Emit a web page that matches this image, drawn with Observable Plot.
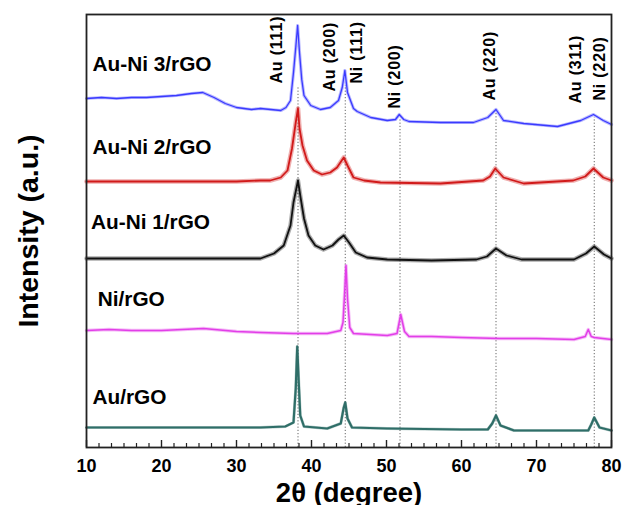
<!DOCTYPE html>
<html>
<head>
<meta charset="utf-8">
<script src="https://cdn.jsdelivr.net/npm/d3@7"></script>
<script src="https://cdn.jsdelivr.net/npm/@observablehq/plot@0.6"></script>
<style>
  html, body { margin: 0; padding: 0; background: #fff; }
  #chart { width: 622px; height: 505px; }
</style>
</head>
<body>
<div id="chart"></div>
<script>
// ---- Data (2θ in degrees, intensity in a.u., stacked offsets included) ----
const seriesNames = ["Au-Ni 3/rGO", "Au-Ni 2/rGO", "Au-Ni 1/rGO", "Ni/rGO", "Au/rGO"];
const seriesColors = ["#3a3aff", "#d11a1a", "#111111", "#e23ee8", "#2f6e68"];

const auNi3 = [
  [10,349],[12,350],[14,349],[16,350],[18,350],[20,351],[22,352],[24,354],[25.5,355],[27,350],
  [28.5,344],[30,340],[32,338],[33.2,339],[35.9,337],[36.6,340],[37.2,347],[37.6,375],[37.9,400],
  [38.15,422],[38.4,395],[38.7,368],[39,352],[39.9,342],[41.2,338],[42.5,340],[43.6,347],[44.1,360],
  [44.45,377],[44.8,355],[45.6,339],[46.1,336],[47.9,330],[50.1,327],[51.2,328],[51.7,333],
  [52.3,328],[53,326],[57.2,325],[61.6,325],[63.5,330],[64.6,338],[65.6,327],[68.3,324],
  [72.8,321],[75.9,327],[77.6,333],[78.9,327],[80,323]
];
const auNi2 = [
  [10,266],[15,266],[20,266],[25,266],[30,266],[33.2,267],[34.5,267],[35.9,270],[36.8,277],
  [37.4,299],[37.9,325],[38.2,339],[38.4,319],[38.8,302],[39.4,287],[40.3,277],[41.4,273],
  [42.5,275],[43.4,280],[44.3,290],[44.8,282],[45.6,270],[47,267],[49.2,265],[57.2,264],
  [62.9,267],[63.8,271],[64.5,279],[65.6,270],[68.3,264],[74.9,267],[76.5,271],[77.6,279],
  [78.9,270],[80,267]
];
const auNi1 = [
  [10,189],[15,189],[20,189],[25,189],[30,189],[33.2,189],[35,194],[36.3,202],[37.2,222],
  [37.6,245],[38.2,267],[38.5,252],[39,229],[39.6,212],[40.5,202],[41.6,198],[42.8,202],
  [43.6,208],[44.3,212],[45,205],[45.9,195],[47.4,190],[50.1,188],[56,187],[62,188],[63.4,191],
  [64.6,199],[66,192],[68,188],[75,188],[76.6,194],[77.7,201],[79,193],[80,189]
];
const niRgo = [
  [10,117],[13,118],[16,117],[20,117],[25.6,119],[30,116],[33.2,115],[37.6,114],[42.1,114],
  [43.9,117],[44.2,125],[44.45,159],[44.6,182],[44.8,149],[45.1,120],[45.6,114],[50.1,112],
  [51.4,114],[51.9,133],[52.4,116],[53,111],[56,111],[60,110],[65,109],[70,109],[75,108],
  [76.5,111],[76.9,118],[77.3,111],[77.7,110],[80,108]
];
const auRgo = [
  [10,20],[20,20],[30,20],[33.2,20],[36.5,21],[37.6,25],[37.9,59],[38.1,101],[38.3,65],[38.5,32],
  [39,21],[42.1,19],[43.9,24],[44.3,40],[44.5,45],[44.8,29],[45.4,20],[50.1,19],[60,18],[63.5,18],
  [64.1,24],[64.6,32],[65.2,22],[67,17],[72,17],[76.9,17],[77.3,23],[77.7,30],[78.4,20],[80,17]
];
const seriesData = [auNi3, auNi2, auNi1, niRgo, auRgo];

// series label anchors (2θ, intensity)
const seriesLabelX = [10.8, 10.8, 10.6, 11.5, 10.8];
const seriesLabelY = [383, 300, 225, 148, 50];

// reflection labels
const peakLabels = ["Au (111)", "Au (200)", "Ni (111)", "Ni (200)", "Au (220)", "Au (311)", "Ni (220)"];
const peakLabelX = [35.33, 42.4, 46.0, 51.07, 63.73, 75.2, 78.4];
const peakLabelY = [364, 356, 364, 339, 347, 344, 347];

// dotted reference lines (2θ, top intensity)
const refLineX = [38.2, 44.5, 51.8, 64.6, 77.7];
const refLineTop = [360, 362, 328, 334, 330];

const xTicks = [10, 20, 30, 40, 50, 60, 70, 80];

// ---- build tables ----
const lines = seriesData.flatMap((arr, i) => arr.map(([x, y]) => ({series: seriesNames[i], x, y})));
const labels = seriesNames.map((s, i) => ({text: s, x: seriesLabelX[i], y: seriesLabelY[i]}));
const peaks = peakLabels.map((t, i) => ({text: t, x: peakLabelX[i], y: peakLabelY[i]}));
const refs = refLineX.map((x, i) => ({x, top: refLineTop[i]}));
const minorTicks = d3.range(0, 43).map(i => 10 + i * 10 / 6).filter(v => Math.abs(v / 10 - Math.round(v / 10)) > 1e-6);

// noisy band (wide translucent stroke) + core stroke, per series
const bandWidths = {"Au-Ni 3/rGO": 3.2, "Au-Ni 2/rGO": 4.6, "Au-Ni 1/rGO": 4.4, "Ni/rGO": 3.4, "Au/rGO": 3.0};
const coreWidths = {"Au-Ni 3/rGO": 1.3, "Au-Ni 2/rGO": 1.8, "Au-Ni 1/rGO": 1.8, "Ni/rGO": 1.5, "Au/rGO": 2.2};

const chart = Plot.plot({
  width: 622,
  height: 505,
  marginLeft: 86,
  marginRight: 11,
  marginTop: 14,
  marginBottom: 58,
  style: {fontFamily: "'Liberation Sans', Arial, Helvetica, sans-serif", background: "#fff"},
  x: {domain: [10, 80]},
  y: {domain: [0, 433], axis: null},
  color: {domain: seriesNames, range: seriesColors},
  marks: [
    Plot.ruleX(refs, {x: "x", y1: 0, y2: "top", stroke: "#555", strokeWidth: 0.9, strokeDasharray: "1.2,2"}),
    ...seriesNames.map(s => Plot.line(lines.filter(d => d.series === s), {
      x: "x", y: "y", stroke: "series", strokeWidth: bandWidths[s], strokeOpacity: 0.35, strokeLinejoin: "round"
    })),
    ...seriesNames.map(s => Plot.line(lines.filter(d => d.series === s), {
      x: "x", y: "y", stroke: "series", strokeWidth: coreWidths[s], strokeLinejoin: "round"
    })),
    Plot.text(labels, {x: "x", y: "y", text: "text", textAnchor: "start", fontSize: 20.8, fontWeight: "bold", fill: "#000"}),
    Plot.text(peaks, {x: "x", y: "y", text: "text", rotate: -90, textAnchor: "start", fontSize: 16, fontWeight: "bold", fill: "#000"}),
    Plot.tickX(minorTicks, {x: d => d, insetTop: 429, stroke: "#222", strokeWidth: 1.2}),
    Plot.tickX(xTicks, {x: d => d, insetTop: 426, stroke: "#222", strokeWidth: 1.4}),
    Plot.axisX({ticks: xTicks, tickSize: 0, tickPadding: 12, fontSize: 18, fontWeight: "bold", label: null, fill: "#000"}),
    Plot.text(["2θ (degree)"], {frameAnchor: "bottom", dy: 54, lineAnchor: "bottom", fontSize: 27.5, fontWeight: "bold", fill: "#000"}),
    Plot.text(["Intensity (a.u.)"], {frameAnchor: "left", dx: -58, rotate: -90, textAnchor: "middle", fontSize: 28.5, fontWeight: "bold", fill: "#000"}),
    Plot.frame({stroke: "#222", strokeWidth: 1.8})
  ]
});
// slightly wider letter spacing on the reflection labels, as in the reference
d3.select(chart).selectAll("text")
  .filter(function() { return peakLabels.includes(this.textContent); })
  .attr("letter-spacing", "0.8");
document.getElementById("chart").appendChild(chart);
</script>
</body>
</html>
